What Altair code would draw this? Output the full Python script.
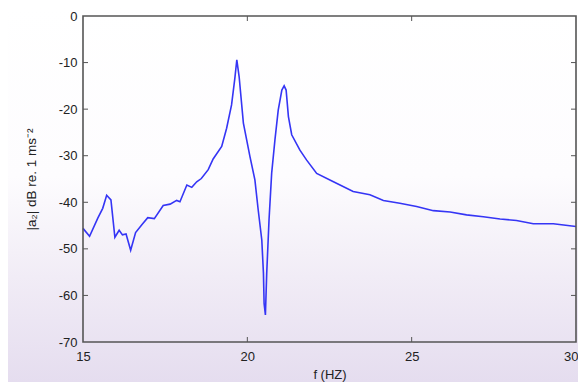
import altair as alt
import pandas as pd

# ---- data ----
freq = [15.0, 15.2, 15.45, 15.6, 15.72, 15.85, 15.97, 16.1, 16.2, 16.31,
        16.45, 16.6, 16.79, 16.97, 17.17, 17.44, 17.65, 17.85, 17.95, 18.16,
        18.31, 18.46, 18.6, 18.81, 18.96, 19.22, 19.37, 19.52, 19.62, 19.68,
        19.75, 19.88, 20.08, 20.23, 20.33, 20.44, 20.49, 20.51, 20.55, 20.59,
        20.66, 20.74, 20.84, 20.94, 21.05, 21.12, 21.18, 21.25, 21.35, 21.6,
        21.8, 22.11, 22.62, 23.22, 23.73, 24.14, 24.64, 25.15, 25.66, 26.17,
        26.67, 27.18, 27.69, 28.19, 28.7, 29.31, 30.0]
level = [-45.6, -47.3, -43.4, -41.3, -38.5, -39.5, -47.5, -46.0, -47.0, -46.8,
         -50.3, -46.5, -44.8, -43.3, -43.5, -40.7, -40.4, -39.6, -39.9, -36.3,
         -36.8, -35.6, -34.9, -33.0, -30.7, -28.0, -24.1, -19.1, -13.4, -9.4,
         -13.0, -23.0, -30.2, -35.2, -41.6, -48.1, -55.2, -61.7, -64.2, -55.2,
         -43.8, -33.8, -26.6, -20.2, -15.9, -15.0, -15.9, -21.6, -25.5, -28.8,
         -30.9, -33.8, -35.6, -37.7, -38.4, -39.6, -40.2, -40.9, -41.8, -42.1,
         -42.7, -43.1, -43.6, -43.9, -44.6, -44.6, -45.2]

x_ticks = [15, 20, 25, 30]
y_ticks = [-70, -60, -50, -40, -30, -20, -10, 0]
x_inner = [20, 25]
y_inner = [-60, -50, -40, -30, -20, -10]

W, H = 493, 326
PL, PT, PR, PB = 75, 8, 2, 40

df = pd.DataFrame({"f": freq, "a": level})
xs = alt.Scale(domain=[15, 30], nice=False, zero=False)
ys = alt.Scale(domain=[-70, 0], nice=False, zero=False)

font = "Liberation Sans"
xaxis = alt.Axis(values=x_ticks, tickSize=0, domain=False, grid=False,
                 labelPadding=8, labelFontSize=13, labelFont=font, labelColor="#222",
                 labelFlush=False, labelOverlap=False, labelExpr="'' + datum.value",
                 labelAlign={"condition": {"test": "datum.value == 30", "value": "right"},
                             "value": "center"},
                 labelOffset={"condition": {"test": "datum.value == 30", "value": 2},
                              "value": 0},
                 title="f (HZ)", titleFont=font, titleFontSize=13,
                 titleFontWeight="normal", titleColor="#222", titlePadding=5, zindex=1)
yaxis = alt.Axis(values=y_ticks, tickSize=0, domain=False, grid=False,
                 labelPadding=6, labelFontSize=13, labelFont=font, labelColor="#222",
                 labelFlush=False, labelOverlap=False, labelExpr="'' + datum.value",
                 title="|a₂| dB re. 1 ms⁻²", titleFont=font, titleFontSize=13.5,
                 titleFontWeight="normal", titleColor="#222", titlePadding=20, zindex=1)

one = pd.DataFrame({"k": [0]})
bg = alt.Chart(one).mark_rect(
    color=alt.Gradient(
        gradient="linear", x1=0, y1=0, x2=0, y2=1,
        stops=[alt.GradientStop(color="#ffffff", offset=0),
               alt.GradientStop(color="#fdfcfe", offset=0.45),
               alt.GradientStop(color="#f1ecf6", offset=0.72),
               alt.GradientStop(color="#e5ddef", offset=1)])
).encode(x=alt.value(-PL), x2=alt.value(W + PR), y=alt.value(-PT), y2=alt.value(H + PB))

line = alt.Chart(df).mark_line(color="#3535f5", strokeWidth=1.6).encode(
    x=alt.X("f:Q", scale=xs, axis=xaxis),
    y=alt.Y("a:Q", scale=ys, axis=yaxis),
)

tx = pd.DataFrame({"t": x_inner})
ty = pd.DataFrame({"t": y_inner})
tick_col = "#555555"
xt_bottom = alt.Chart(tx).mark_rule(color=tick_col, strokeWidth=1).encode(
    x=alt.X("t:Q", scale=xs), y=alt.value(H), y2=alt.value(H - 5))
xt_top = alt.Chart(tx).mark_rule(color=tick_col, strokeWidth=1).encode(
    x=alt.X("t:Q", scale=xs), y=alt.value(0), y2=alt.value(5))
yt_left = alt.Chart(ty).mark_rule(color=tick_col, strokeWidth=1).encode(
    y=alt.Y("t:Q", scale=ys), x=alt.value(0), x2=alt.value(5))
yt_right = alt.Chart(ty).mark_rule(color=tick_col, strokeWidth=1).encode(
    y=alt.Y("t:Q", scale=ys), x=alt.value(W - 5), x2=alt.value(W))

frame = alt.Chart(one).mark_rect(filled=False, stroke="#555555", strokeWidth=1.6).encode(
    x=alt.value(0), x2=alt.value(W), y=alt.value(0), y2=alt.value(H))

chart = alt.layer(bg, line, xt_bottom, xt_top, yt_left, yt_right, frame).properties(
    width=W, height=H,
    autosize=alt.AutoSizeParams(type="none"),
    padding={"left": PL, "top": PT, "right": PR, "bottom": PB},
    background="white",
).configure_view(stroke=None)

chart.save("out.html", embed_options={"renderer": "svg", "actions": False})
